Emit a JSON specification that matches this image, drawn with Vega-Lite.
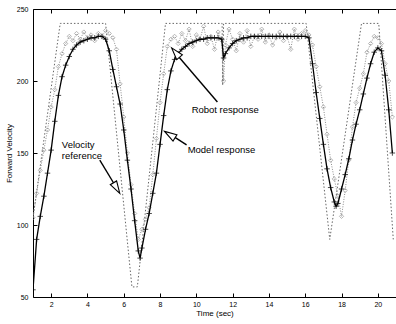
{
 "$schema": "https://vega.github.io/schema/vega-lite/v6.json",
 "width": 363,
 "height": 288,
 "autosize": {"type": "none"},
 "padding": {"left": 33, "top": 9, "right": 0, "bottom": 27},
 "background": "white",
 "config": {
  "view": {"stroke": null},
  "font": "Liberation Sans",
  "axis": {"grid": false, "domainColor": "black", "tickColor": "black", "labelColor": "black", "titleColor": "black", "titleFontWeight": "normal", "labelFontSize": 7, "titleFontSize": 8}
 },
 "resolve": {"axis": {"x": "independent"}},
 "datasets": {
  "reference": [
   {"t": 1.0, "v": 105}, {"t": 2.5, "v": 240}, {"t": 5.0, "v": 240}, {"t": 6.45, "v": 57}, {"t": 6.75, "v": 57},
   {"t": 8.3, "v": 240}, {"t": 11.42, "v": 240}, {"t": 11.45, "v": 197}, {"t": 11.5, "v": 240}, {"t": 16.05, "v": 240},
   {"t": 17.35, "v": 90}, {"t": 19.1, "v": 240}, {"t": 20.05, "v": 240}, {"t": 20.85, "v": 90}
  ],
  "robot": [
   {"t": 1.0, "v": 105}, {"t": 1.2, "v": 122}, {"t": 1.4, "v": 138}, {"t": 1.6, "v": 152}, {"t": 1.8, "v": 166},
   {"t": 2.0, "v": 182}, {"t": 2.2, "v": 194}, {"t": 2.4, "v": 210}, {"t": 2.6, "v": 219}, {"t": 2.8, "v": 226},
   {"t": 3.0, "v": 231}, {"t": 3.2, "v": 228}, {"t": 3.4, "v": 233}, {"t": 3.6, "v": 229}, {"t": 3.8, "v": 234},
   {"t": 4.0, "v": 230}, {"t": 4.2, "v": 232}, {"t": 4.4, "v": 228}, {"t": 4.6, "v": 233}, {"t": 4.8, "v": 231},
   {"t": 5.0, "v": 235}, {"t": 5.2, "v": 233}, {"t": 5.4, "v": 230}, {"t": 5.6, "v": 222}, {"t": 5.8, "v": 198},
   {"t": 6.0, "v": 175}, {"t": 6.2, "v": 150}, {"t": 6.4, "v": 128}, {"t": 6.6, "v": 108}, {"t": 6.8, "v": 90},
   {"t": 7.0, "v": 97}, {"t": 7.2, "v": 104}, {"t": 7.4, "v": 112}, {"t": 7.6, "v": 135}, {"t": 7.8, "v": 160},
   {"t": 8.0, "v": 185}, {"t": 8.2, "v": 205}, {"t": 8.4, "v": 224}, {"t": 8.6, "v": 229}, {"t": 8.8, "v": 231},
   {"t": 9.0, "v": 226}, {"t": 9.2, "v": 233}, {"t": 9.4, "v": 228}, {"t": 9.6, "v": 236}, {"t": 9.8, "v": 224},
   {"t": 10.0, "v": 232}, {"t": 10.2, "v": 229}, {"t": 10.4, "v": 238}, {"t": 10.6, "v": 226}, {"t": 10.8, "v": 231},
   {"t": 11.0, "v": 222}, {"t": 11.2, "v": 234}, {"t": 11.4, "v": 228}, {"t": 11.5, "v": 200}, {"t": 11.6, "v": 225},
   {"t": 11.8, "v": 236}, {"t": 12.0, "v": 229}, {"t": 12.2, "v": 221}, {"t": 12.4, "v": 233}, {"t": 12.6, "v": 227},
   {"t": 12.8, "v": 235}, {"t": 13.0, "v": 224}, {"t": 13.2, "v": 231}, {"t": 13.4, "v": 229}, {"t": 13.6, "v": 236},
   {"t": 13.8, "v": 227}, {"t": 14.0, "v": 232}, {"t": 14.2, "v": 225}, {"t": 14.4, "v": 230}, {"t": 14.6, "v": 234},
   {"t": 14.8, "v": 228}, {"t": 15.0, "v": 231}, {"t": 15.2, "v": 222}, {"t": 15.4, "v": 236}, {"t": 15.6, "v": 229},
   {"t": 15.8, "v": 233}, {"t": 16.0, "v": 235}, {"t": 16.2, "v": 232}, {"t": 16.4, "v": 225}, {"t": 16.6, "v": 210},
   {"t": 16.8, "v": 196}, {"t": 17.0, "v": 182}, {"t": 17.2, "v": 163}, {"t": 17.4, "v": 145}, {"t": 17.6, "v": 132},
   {"t": 17.8, "v": 120}, {"t": 18.0, "v": 106}, {"t": 18.2, "v": 124}, {"t": 18.4, "v": 145}, {"t": 18.6, "v": 168},
   {"t": 18.8, "v": 185}, {"t": 19.0, "v": 195}, {"t": 19.2, "v": 205}, {"t": 19.4, "v": 220}, {"t": 19.6, "v": 226},
   {"t": 19.8, "v": 231}, {"t": 20.0, "v": 230}, {"t": 20.2, "v": 226}, {"t": 20.4, "v": 212}, {"t": 20.6, "v": 200},
   {"t": 20.8, "v": 175}
  ],
  "model": [
   {"t": 1.0, "v": 55}, {"t": 1.2, "v": 90}, {"t": 1.4, "v": 106}, {"t": 1.6, "v": 120}, {"t": 1.8, "v": 136},
   {"t": 2.0, "v": 152}, {"t": 2.2, "v": 172}, {"t": 2.4, "v": 190}, {"t": 2.6, "v": 203}, {"t": 2.8, "v": 211},
   {"t": 3.0, "v": 217}, {"t": 3.2, "v": 222}, {"t": 3.4, "v": 225}, {"t": 3.6, "v": 227}, {"t": 3.8, "v": 228},
   {"t": 4.0, "v": 229}, {"t": 4.2, "v": 230}, {"t": 4.4, "v": 230}, {"t": 4.6, "v": 231}, {"t": 4.8, "v": 231},
   {"t": 5.0, "v": 229}, {"t": 5.2, "v": 221}, {"t": 5.4, "v": 208}, {"t": 5.6, "v": 196}, {"t": 5.8, "v": 184},
   {"t": 6.0, "v": 166}, {"t": 6.2, "v": 145}, {"t": 6.4, "v": 125}, {"t": 6.6, "v": 103}, {"t": 6.8, "v": 82},
   {"t": 6.9, "v": 77}, {"t": 7.0, "v": 84}, {"t": 7.2, "v": 97}, {"t": 7.4, "v": 108}, {"t": 7.6, "v": 122},
   {"t": 7.8, "v": 136}, {"t": 8.0, "v": 156}, {"t": 8.2, "v": 176}, {"t": 8.4, "v": 194}, {"t": 8.6, "v": 207},
   {"t": 8.8, "v": 215}, {"t": 9.0, "v": 219}, {"t": 9.2, "v": 222}, {"t": 9.4, "v": 224}, {"t": 9.6, "v": 226},
   {"t": 9.8, "v": 227}, {"t": 10.0, "v": 228}, {"t": 10.2, "v": 229}, {"t": 10.4, "v": 229}, {"t": 10.6, "v": 230},
   {"t": 10.8, "v": 230}, {"t": 11.0, "v": 230}, {"t": 11.2, "v": 230}, {"t": 11.4, "v": 229}, {"t": 11.5, "v": 216},
   {"t": 11.6, "v": 219}, {"t": 11.8, "v": 223}, {"t": 12.0, "v": 226}, {"t": 12.2, "v": 228}, {"t": 12.4, "v": 229},
   {"t": 12.6, "v": 230}, {"t": 12.8, "v": 230}, {"t": 13.0, "v": 231}, {"t": 13.2, "v": 231}, {"t": 13.4, "v": 231},
   {"t": 13.6, "v": 231}, {"t": 13.8, "v": 231}, {"t": 14.0, "v": 231}, {"t": 14.2, "v": 231}, {"t": 14.4, "v": 231},
   {"t": 14.6, "v": 231}, {"t": 14.8, "v": 231}, {"t": 15.0, "v": 231}, {"t": 15.2, "v": 231}, {"t": 15.4, "v": 231},
   {"t": 15.6, "v": 231}, {"t": 15.8, "v": 231}, {"t": 16.0, "v": 231}, {"t": 16.2, "v": 230}, {"t": 16.4, "v": 212},
   {"t": 16.6, "v": 192}, {"t": 16.8, "v": 174}, {"t": 17.0, "v": 156}, {"t": 17.2, "v": 139}, {"t": 17.4, "v": 126},
   {"t": 17.6, "v": 116}, {"t": 17.7, "v": 113}, {"t": 17.8, "v": 115}, {"t": 18.0, "v": 125}, {"t": 18.2, "v": 135},
   {"t": 18.4, "v": 146}, {"t": 18.6, "v": 159}, {"t": 18.8, "v": 170}, {"t": 19.0, "v": 180}, {"t": 19.2, "v": 191},
   {"t": 19.4, "v": 202}, {"t": 19.6, "v": 212}, {"t": 19.8, "v": 220}, {"t": 20.0, "v": 223}, {"t": 20.2, "v": 221},
   {"t": 20.4, "v": 204}, {"t": 20.6, "v": 180}, {"t": 20.8, "v": 150}
  ],
  "arrows": [
   {"t": 4.68, "v": 145, "t2": 5.45, "v2": 129, "tt": 5.78, "vt": 122, "a": 149},
   {"t": 11.16, "v": 185.4, "t2": 9.05, "v2": 216.5, "tt": 8.64, "vt": 223, "a": 320},
   {"t": 9.46, "v": 155.6, "t2": 8.8, "v2": 161, "tt": 8.25, "vt": 165, "a": 302}
  ],
  "labels": [
   {"t": 2.59, "v": 155.6, "label": "Velocity"},
   {"t": 2.59, "v": 148, "label": "reference"},
   {"t": 9.74, "v": 180, "label": "Robot response"},
   {"t": 9.52, "v": 152, "label": "Model response"}
  ]
 },
 "layer": [
  {
   "data": {"name": "reference"},
   "mark": {"type": "line", "color": "#666666", "strokeDash": [1.5, 2], "strokeWidth": 1, "clip": true},
   "encoding": {
    "x": {"field": "t", "type": "quantitative", "scale": {"domain": [1, 21], "nice": false, "zero": false},
      "axis": {"orient": "top", "labels": false, "title": null, "values": [2, 4, 6, 8, 10, 12, 14, 16, 18, 20], "tickSize": -4}},
    "y": {"field": "v", "type": "quantitative", "scale": {"domain": [50, 250], "nice": false, "zero": false},
      "axis": {"title": "Forward Velocity", "values": [50, 100, 150, 200, 250], "tickSize": -4, "labelPadding": 9, "titlePadding": 3}}
   }
  },
  {
   "data": {"name": "robot"},
   "mark": {"type": "line", "color": "#8c8c8c", "strokeDash": [1, 1.5], "strokeWidth": 1, "clip": true},
   "encoding": {
    "x": {"field": "t", "type": "quantitative", "axis": null},
    "y": {"field": "v", "type": "quantitative"}
   }
  },
  {
   "data": {"name": "robot"},
   "mark": {"type": "point", "shape": "diamond", "filled": false, "color": "#8c8c8c", "size": 18, "strokeWidth": 0.9, "clip": true},
   "encoding": {
    "x": {"field": "t", "type": "quantitative", "axis": null},
    "y": {"field": "v", "type": "quantitative"}
   }
  },
  {
   "data": {"name": "model"},
   "mark": {"type": "line", "color": "black", "strokeWidth": 1.3, "clip": true},
   "encoding": {
    "x": {"field": "t", "type": "quantitative",
      "axis": {"title": "Time (sec)", "values": [2, 4, 6, 8, 10, 12, 14, 16, 18, 20], "tickSize": -4, "labelPadding": 7, "titlePadding": 2}},
    "y": {"field": "v", "type": "quantitative"}
   }
  },
  {
   "data": {"name": "model"},
   "mark": {"type": "point", "shape": "M-1,0L1,0M0,-1L0,1", "filled": false, "color": "black", "size": 30, "strokeWidth": 1, "clip": true},
   "encoding": {
    "x": {"field": "t", "type": "quantitative", "axis": null},
    "y": {"field": "v", "type": "quantitative"}
   }
  },
  {
   "data": {"name": "arrows"},
   "mark": {"type": "rule", "color": "black", "strokeWidth": 1.4},
   "encoding": {
    "x": {"field": "t", "type": "quantitative", "axis": null},
    "y": {"field": "v", "type": "quantitative"},
    "x2": {"field": "t2"},
    "y2": {"field": "v2"}
   }
  },
  {
   "data": {"name": "arrows"},
   "mark": {"type": "point", "shape": "M0,0L0.6,2L-0.6,2Z", "filled": true, "fill": "white", "stroke": "black", "strokeWidth": 1.1, "size": 150, "opacity": 1},
   "encoding": {
    "x": {"field": "tt", "type": "quantitative", "axis": null},
    "y": {"field": "vt", "type": "quantitative"},
    "angle": {"field": "a", "type": "quantitative", "scale": null}
   }
  },
  {
   "data": {"name": "labels"},
   "mark": {"type": "text", "align": "left", "baseline": "middle", "fontSize": 9.5, "color": "black", "font": "Liberation Sans"},
   "encoding": {
    "x": {"field": "t", "type": "quantitative", "axis": null},
    "y": {"field": "v", "type": "quantitative"},
    "text": {"field": "label"}
   }
  }
 ]
}
